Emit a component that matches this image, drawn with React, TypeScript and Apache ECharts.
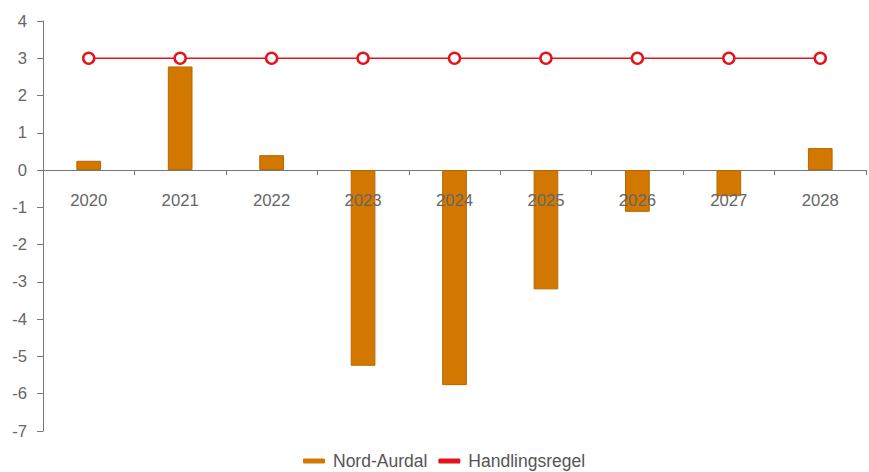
import React, { useEffect, useRef } from "react";
import * as echarts from "echarts";

const categories = ["2020", "2021", "2022", "2023", "2024", "2025", "2026", "2027", "2028"];
const nordAurdal = [0.25, 2.78, 0.4, -5.25, -5.77, -3.2, -1.12, -0.7, 0.59];
const handlingsregel = [3, 3, 3, 3, 3, 3, 3, 3, 3];

export default function App() {
  const ref = useRef<HTMLDivElement>(null);
  useEffect(() => {
    const chart = echarts.init(ref.current!, null, { renderer: "svg" });
    chart.setOption({
      animation: false,
      textStyle: { fontFamily: "Liberation Sans, Arial, sans-serif" },
      grid: { left: 43, right: 3, top: 21, bottom: 41, containLabel: false },
      legend: {
        bottom: -3,
        left: 298,
        itemWidth: 22,
        itemHeight: 5,
        itemGap: 11,
        textStyle: { color: "#555", fontSize: 17.5, padding: [0, 0, 0, 3] },
        data: [
          { name: "Nord-Aurdal", icon: "roundRect", itemStyle: { color: "#d27800", borderWidth: 0 } },
          { name: "Handlingsregel", icon: "roundRect", itemStyle: { color: "#e3141c", borderWidth: 0 } },
        ],
      },
      xAxis: [
        {
          type: "category",
          data: categories,
          axisLine: { onZero: true, lineStyle: { color: "#777", width: 1 } },
          axisTick: { show: true, length: 5, lineStyle: { color: "#777" } },
          axisLabel: { show: false },
          splitLine: { show: false },
        },
        {
          type: "category",
          data: categories,
          position: "bottom",
          offset: -260,
          z: 10,
          axisLine: { show: false, onZero: false },
          axisTick: { show: false },
          axisLabel: { color: "#666", fontSize: 16.7, margin: 21 },
          splitLine: { show: false },
        },
      ],
      yAxis: {
        type: "value",
        min: -7,
        max: 4,
        interval: 1,
        axisLine: { show: true, lineStyle: { color: "#777", width: 1 } },
        axisTick: { show: true, length: 6, lineStyle: { color: "#777" } },
        axisLabel: { color: "#666", fontSize: 16.7, margin: 16 },
        splitLine: { show: false },
      },
      series: [
        {
          name: "Nord-Aurdal",
          type: "bar",
          xAxisIndex: 0,
          data: nordAurdal,
          barWidth: "27%",
          itemStyle: { color: "#d27800", borderColor: "#b56700", borderWidth: 1 },
        },
        {
          name: "Handlingsregel",
          type: "line",
          xAxisIndex: 0,
          data: handlingsregel,
          symbol: "circle",
          symbolSize: 11,
          z: 5,
          lineStyle: { color: "#e3141c", width: 1.5 },
          itemStyle: { color: "#ffffff", borderColor: "#e3141c", borderWidth: 2.5 },
        },
      ],
    });
    return () => chart.dispose();
  }, []);
  return <div ref={ref} style={{ width: 869, height: 472, position: "absolute", left: 0, top: 0 }} />;
}
